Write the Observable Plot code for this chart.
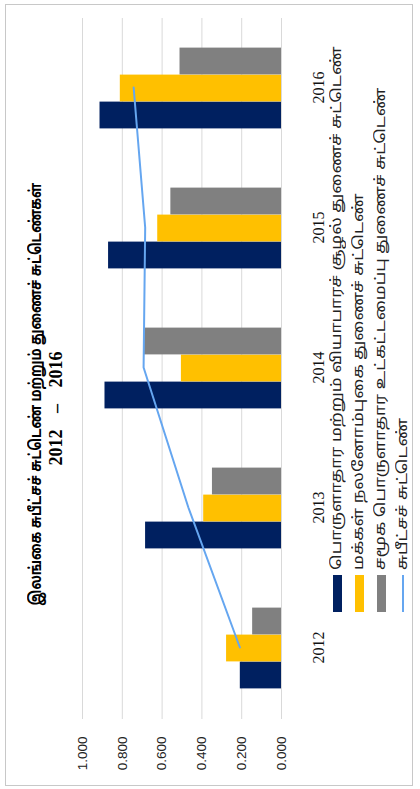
<!DOCTYPE html>
<html><head><meta charset="utf-8">
<script src="https://cdn.jsdelivr.net/npm/d3@7"></script>
<script src="https://cdn.jsdelivr.net/npm/@observablehq/plot@0.6"></script>
<style>
html,body{margin:0;padding:0;background:#fff;overflow:hidden;width:420px;height:789px}
#rot{position:absolute;left:0;top:0;width:789px;height:420px;transform-origin:0 0;transform:translate(0,789px) rotate(-90deg);background:#fff}
#frame{position:absolute;left:3px;top:5px;width:782px;height:408px;border:1px solid #c8c8c8;box-sizing:border-box}
#title{position:absolute;left:0;top:0;width:789px;box-sizing:border-box;text-align:center;font-weight:bold;color:#000;padding-top:27px}
#title .l1{display:inline-block;font-size:16.5px;line-height:19px;font-family:"Latha","Noto Sans Tamil","Noto Sans",sans-serif;transform:scaleX(0.78);transform-origin:50% 50%}
#title .l2{font-size:18px;line-height:18px;font-family:"Liberation Serif","Times New Roman",serif;word-spacing:12px;margin-left:-28px}
#chart{position:absolute;left:0;top:68px}
#legend{position:absolute;left:177px;top:326px;font-family:"Latha","Noto Sans Tamil","Noto Sans",sans-serif;color:#222}
.item{display:flex;align-items:center;height:22px;font-size:14px;white-space:nowrap}
.sw{width:37px;height:9px;margin-right:5px;flex:none}
.ln{width:37px;height:2px;margin-right:5px;flex:none}
.tx{display:inline-block;transform:scaleX(1.24);transform-origin:0 50%}
</style></head>
<body>
<div id="rot">
  <div id="frame"></div>
  <div id="title"></div>
  <div id="chart"></div>
  <div id="legend"></div>
</div>
<script>
const titleLines = ["இலங்கை சுபீட்சச் சுட்டெண் மற்றும் துணைச் சுட்டெண்கள்", "2012 – 2016"];
const years = ["2012", "2013", "2014", "2015", "2016"];
const seriesNames = [
  "பொருளாதார மற்றும் வியாபாரச் சூழல் துணைச் சுட்டெண்",
  "மக்கள் நலனோம்புகை துணைச் சுட்டெண்",
  "சமூக பொருளாதார உட்கட்டமைப்பு துணைச் சுட்டெண்",
  "சுபீட்சச் சுட்டெண்"
];
const economy = [0.207, 0.683, 0.887, 0.869, 0.912];
const welfare = [0.276, 0.391, 0.503, 0.622, 0.810];
const infra = [0.145, 0.347, 0.690, 0.556, 0.510];
const prosperity = [0.209, 0.468, 0.693, 0.685, 0.743];
const yTicks = [0, 0.2, 0.4, 0.6, 0.8, 1.0];
const colors = ["#002060", "#FFC000", "#808080", "#65A6F0"];

const rows = years.map((y, i) => ({year: y, economy: economy[i], welfare: welfare[i], infra: infra[i], prosperity: prosperity[i]}));

const t = document.getElementById("title");
const d1 = document.createElement("div"); const s1 = document.createElement("span");
s1.className = "l1"; s1.textContent = titleLines[0]; d1.appendChild(s1); t.appendChild(d1);
const d2 = document.createElement("div"); d2.className = "l2"; d2.textContent = titleLines[1]; t.appendChild(d2);

const bw = (789 - 70 - 18) / years.length;
const barW = 27;
const ins = (bw - barW) / 2;

const chart = Plot.plot({
  width: 789, height: 258,
  marginTop: 14, marginBottom: 45, marginLeft: 70, marginRight: 18,
  x: {type: "band", domain: years, padding: 0, label: null},
  y: {domain: [0, 1], label: null},
  marks: [
    Plot.ruleY(yTicks, {stroke: "#d9d9d9", strokeWidth: 1}),
    Plot.barY(rows, {x: "year", y: "economy", fill: colors[0], dx: -barW, insetLeft: ins, insetRight: ins}),
    Plot.barY(rows, {x: "year", y: "welfare", fill: colors[1], dx: 0, insetLeft: ins, insetRight: ins}),
    Plot.barY(rows, {x: "year", y: "infra", fill: colors[2], dx: barW, insetLeft: ins, insetRight: ins}),
    Plot.lineY(rows, {x: "year", y: "prosperity", stroke: colors[3], strokeWidth: 2}),
    Plot.axisX({tickSize: 0, tickPadding: 31, fontSize: 16, fontFamily: "Liberation Serif, Times New Roman, serif", fill: "#111", label: null}),
    Plot.axisY({ticks: yTicks, tickFormat: d3.format(".3f"), tickSize: 0, tickPadding: 18, fontSize: 13.5, fontFamily: "Liberation Sans, Arial, sans-serif", fill: "#222", label: null})
  ]
});
document.getElementById("chart").appendChild(chart);

const lg = document.getElementById("legend");
seriesNames.forEach((name, i) => {
  const it = document.createElement("div"); it.className = "item";
  const sw = document.createElement("span"); sw.className = i < 3 ? "sw" : "ln"; sw.style.background = colors[i];
  const tx = document.createElement("span"); tx.className = "tx"; tx.textContent = name;
  it.appendChild(sw); it.appendChild(tx); lg.appendChild(it);
});
</script>
</body></html>
